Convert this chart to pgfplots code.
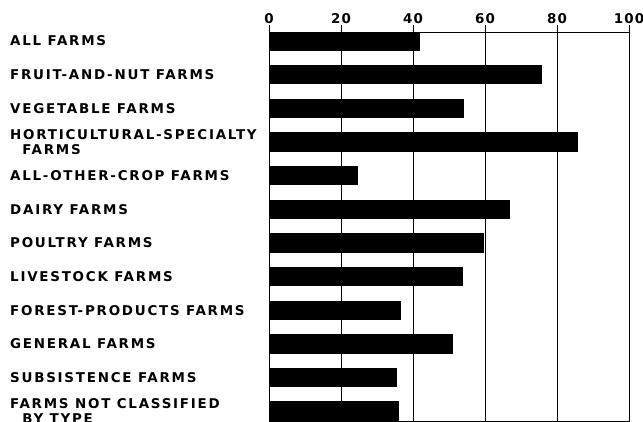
\documentclass[border=0pt]{standalone}
\usepackage{pgfplots}
\pgfplotsset{compat=1.18}
\usepackage{fontspec}
\setmainfont{DejaVu Sans}[LetterSpace=13]
\newfontfamily\numfont{DejaVu Sans}[LetterSpace=8]
\begin{document}
\begin{tikzpicture}[x=1bp,y=1bp]
\begin{axis}[
  at={(269bp,1bp)}, anchor=south west,
  scale only axis, width=360bp, height=389bp,
  xbar, bar width=18.5bp, bar shift=0pt,
  xmin=0, xmax=100, ymin=-0.27, ymax=11.29,
  y dir=reverse,
  xtick={0,20,40,60,80,100},
  xtick pos=upper, xticklabel pos=upper,
  tick align=outside, major tick length=7bp,
  xmajorgrids, grid style={black, line width=0.9bp},
  axis line style={black, line width=1bp},
  every tick/.style={black, line width=0.9bp},
  /pgf/number format/assume math mode=true,
  xticklabel style={font=\numfont\bfseries\fontsize{13.5}{14}\selectfont, inner sep=1.5bp},
  ytick={0,...,11}, ytick style={draw=none},
  yticklabels={
    ALL FARMS,
    FRUIT-AND-NUT FARMS,
    VEGETABLE FARMS,
    {HORTICULTURAL-SPECIALTY\\\hspace*{0.9em}FARMS},
    ALL-OTHER-CROP FARMS,
    DAIRY FARMS,
    POULTRY FARMS,
    LIVESTOCK FARMS,
    FOREST-PRODUCTS FARMS,
    GENERAL FARMS,
    SUBSISTENCE FARMS,
    {FARMS NOT CLASSIFIED\\\hspace*{0.9em}BY TYPE}},
  yticklabel style={anchor=west, align=left, inner sep=0pt, xshift=-252bp,
    font=\bfseries\fontsize{13.5}{15}\selectfont},
]
\addplot[fill=black, draw=black, line width=0pt] coordinates {
  (41.7,0) (75.7,1) (54.0,2) (85.6,3) (24.5,4) (66.8,5)
  (59.7,6) (53.8,7) (36.4,8) (50.9,9) (35.3,10) (36.0,11)
};
\end{axis}
\pgfresetboundingbox
\path[use as bounding box] (0,0) rectangle (643bp,422bp);
\end{tikzpicture}
\end{document}
